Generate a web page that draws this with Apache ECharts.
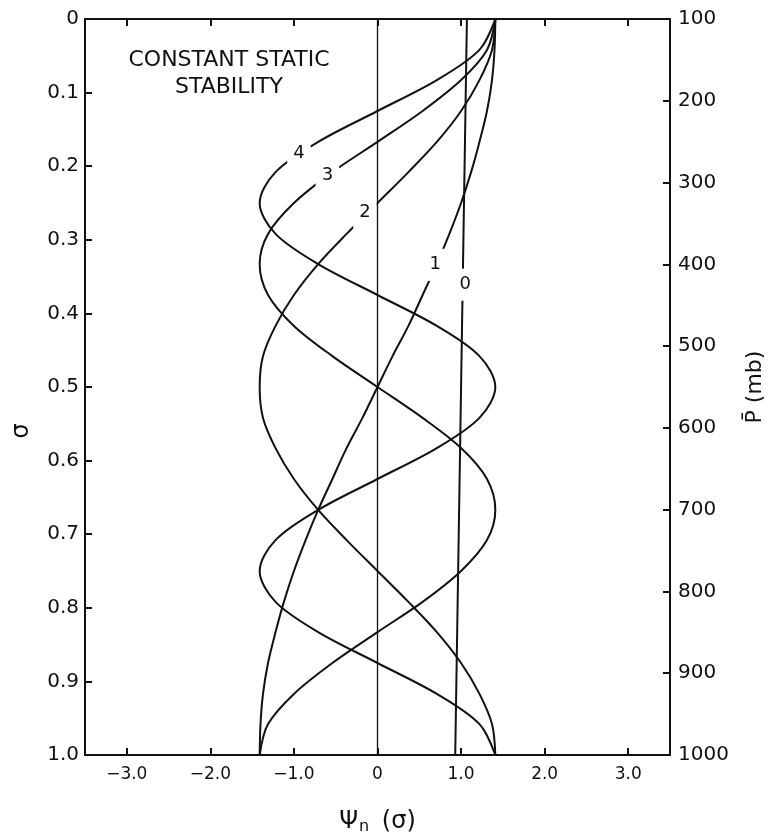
<!DOCTYPE html>
<html>
<head>
<meta charset="utf-8">
<script src="https://cdn.jsdelivr.net/npm/echarts@6/dist/echarts.min.js"></script>
<style>
  html, body { margin: 0; padding: 0; background: #ffffff; }
  #chart { width: 772px; height: 839px; }
</style>
</head>
<body>
<div id="chart"></div>
<script>
// Vertical structure functions Psi_n(sigma) for constant static stability
const sigmaGrid = [0, 0.042, 0.083, 0.125, 0.167, 0.208, 0.25, 0.292, 0.333, 0.375, 0.417, 0.458,
  0.5, 0.542, 0.583, 0.625, 0.667, 0.708, 0.75, 0.792, 0.833, 0.875, 0.917, 0.958, 1.0];
const psi1 = [1.41, 1.40, 1.37, 1.31, 1.22, 1.12, 1.00, 0.86, 0.71, 0.54, 0.37, 0.18,
  0, -0.18, -0.37, -0.54, -0.71, -0.86, -1.00, -1.12, -1.22, -1.31, -1.37, -1.40, -1.41];
const psi2 = [1.41, 1.37, 1.22, 1.00, 0.71, 0.37, 0, -0.37, -0.71, -1.00, -1.22, -1.37,
  -1.41, -1.37, -1.22, -1.00, -0.71, -0.37, 0, 0.37, 0.71, 1.00, 1.22, 1.37, 1.41];
const psi3 = [1.41, 1.31, 1.00, 0.54, 0, -0.54, -1.00, -1.31, -1.41, -1.31, -1.00, -0.54,
  0, 0.54, 1.00, 1.31, 1.41, 1.31, 1.00, 0.54, 0, -0.54, -1.00, -1.31, -1.41];
const psi4 = [1.41, 1.22, 0.71, 0, -0.71, -1.22, -1.41, -1.22, -0.71, 0, 0.71, 1.22,
  1.41, 1.22, 0.71, 0, -0.71, -1.22, -1.41, -1.22, -0.71, 0, 0.71, 1.22, 1.41];
// n = 0 mode (nearly uniform with depth)
const sigma0 = [0, 0.5, 1.0];
const psi0 = [1.07, 1.00, 0.93];

// Curve labels: position (psi, sigma) and text
const labelPsi = [-0.94, -0.60, -0.15, 0.69, 1.05];
const labelSigma = [0.182, 0.213, 0.263, 0.334, 0.361];
const labelText = ['4', '3', '2', '1', '0'];

// Axis ticks
const psiTicks = [-3, -2, -1, 0, 1, 2, 3];
const psiTickLabels = ['\u22123.0', '\u22122.0', '\u22121.0', '0', '1.0', '2.0', '3.0'];

const FONT = 'DejaVu Sans';
const INK = '#111111';

function pairs(psi, sig) {
  return psi.map((v, i) => [v, sig[i]]);
}

const curveStyle = { color: INK, width: 2 };

function curve(name, psi, sig, smooth) {
  return {
    name: name,
    type: 'line',
    data: pairs(psi, sig),
    smooth: smooth,
    showSymbol: false,
    symbol: 'none',
    lineStyle: curveStyle,
    z: 2,
    silent: true
  };
}

const axisLine = { show: true, onZero: false, lineStyle: { color: INK, width: 2 } };

const chart = echarts.init(document.getElementById('chart'), null, { renderer: 'canvas' });

chart.setOption({
  animation: false,
  backgroundColor: '#ffffff',
  textStyle: { fontFamily: FONT, color: INK },
  grid: { left: 85, right: 102, top: 19, bottom: 84, outerBoundsMode: 'none' },
  graphic: [{
    type: 'text',
    x: 229,
    y: 47,
    style: {
      text: 'CONSTANT STATIC\nSTABILITY',
      align: 'center',
      verticalAlign: 'top',
      fontFamily: FONT,
      fontSize: 22,
      lineHeight: 27,
      fill: INK
    }
  }],
  xAxis: [{
    type: 'value',
    position: 'bottom',
    min: -3.5,
    max: 3.5,
    splitLine: { show: false },
    axisLine: axisLine,
    axisTick: { show: true, inside: true, length: 7, customValues: psiTicks, lineStyle: { color: INK, width: 2 } },
    axisLabel: {
      customValues: psiTicks,
      margin: 11,
      fontSize: 17,
      color: INK,
      fontFamily: FONT,
      formatter: v => psiTickLabels[psiTicks.indexOf(Math.round(v))]
    },
    name: '{a|Ψ}{b|n}{a| (σ)}',
    nameLocation: 'middle',
    nameGap: 54,
    nameTextStyle: {
      rich: {
        a: { fontSize: 24, fontFamily: FONT, color: INK },
        b: { fontSize: 16, fontFamily: FONT, color: INK, padding: [10, 5, 0, 1] }
      }
    }
  }, {
    type: 'value',
    position: 'top',
    min: -3.5,
    max: 3.5,
    splitLine: { show: false },
    axisLine: axisLine,
    axisTick: { show: true, inside: true, length: 7, customValues: psiTicks, lineStyle: { color: INK, width: 2 } },
    axisLabel: { show: false }
  }],
  yAxis: [{
    type: 'value',
    position: 'left',
    inverse: true,
    min: 0,
    max: 1,
    interval: 0.1,
    splitLine: { show: false },
    axisLine: axisLine,
    axisTick: { show: true, inside: true, length: 7, lineStyle: { color: INK, width: 2 } },
    axisLabel: {
      margin: 6,
      fontSize: 20,
      color: INK,
      fontFamily: FONT,
      formatter: v => (Math.abs(v) < 1e-9 ? '0' : v.toFixed(1))
    },
    name: 'σ',
    nameLocation: 'middle',
    nameRotate: 90,
    nameGap: 51,
    nameTextStyle: { fontSize: 24, fontFamily: FONT, color: INK, padding: [0, 88, 0, 0] }
  }, {
    type: 'value',
    position: 'right',
    inverse: true,
    min: 100,
    max: 1000,
    interval: 100,
    splitLine: { show: false },
    axisLine: axisLine,
    axisTick: { show: true, inside: true, length: 7, lineStyle: { color: INK, width: 2 } },
    axisLabel: { margin: 8, fontSize: 20, color: INK, fontFamily: FONT, formatter: v => String(v) },
    name: 'P\u0304 (mb)',
    nameLocation: 'middle',
    nameRotate: 90,
    nameGap: 74,
    nameTextStyle: { fontSize: 22, fontFamily: FONT, color: INK }
  }],
  series: [
    curve('Ψ0', psi0, sigma0, false),
    curve('Ψ1', psi1, sigmaGrid, 0.33),
    curve('Ψ2', psi2, sigmaGrid, 0.33),
    curve('Ψ3', psi3, sigmaGrid, 0.33),
    curve('Ψ4', psi4, sigmaGrid, 0.33),
    {
      // curve numbers, each on a white patch that breaks its curve
      name: 'labels',
      type: 'custom',
      data: labelPsi.map((v, i) => [v, labelSigma[i], labelText[i]]),
      z: 3,
      silent: true,
      renderItem: function (params, api) {
        const pt = api.coord([api.value(0), api.value(1)]);
        return {
          type: 'text',
          x: pt[0],
          y: pt[1],
          style: {
            text: labelText[params.dataIndex],
            align: 'center',
            verticalAlign: 'middle',
            fontFamily: FONT,
            fontSize: 18,
            fill: INK,
            backgroundColor: '#ffffff',
            padding: [7, 6]
          }
        };
      }
    },
    {
      name: 'zero',
      type: 'line',
      data: [],
      z: 5,
      silent: true,
      markLine: {
        silent: true,
        symbol: 'none',
        label: { show: false },
        lineStyle: { color: INK, width: 1.3, type: 'solid' },
        data: [{ xAxis: 0 }]
      }
    }
  ]
});
</script>
</body>
</html>
